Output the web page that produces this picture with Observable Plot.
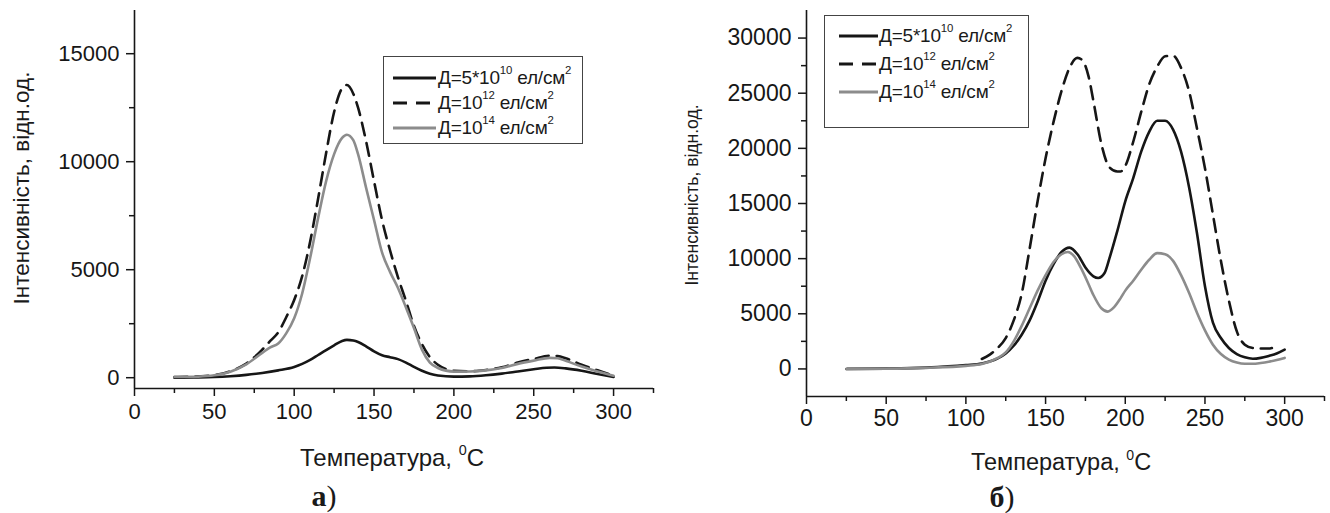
<!DOCTYPE html>
<html>
<head>
<meta charset="utf-8">
<script src="https://cdn.jsdelivr.net/npm/d3@7"></script>
<script src="https://cdn.jsdelivr.net/npm/@observablehq/plot@0.6"></script>
<style>
  html, body { margin: 0; padding: 0; background: #fff; }
  body { width: 1330px; height: 513px; position: relative; overflow: hidden; font-family: "Liberation Sans", Arial, sans-serif; color: #1a1a1a; }
  .abs { position: absolute; }
  .ytitle { position: absolute; white-space: nowrap; transform: translate(-50%, -50%) rotate(-90deg); line-height: 1.1; }
  .xtitle { position: absolute; white-space: nowrap; transform: translate(-50%, -50%); line-height: 1.1; }
  .cap { position: absolute; white-space: nowrap; transform: translate(-50%, -50%); font-family: "Liberation Serif", "Times New Roman", serif; font-size: 30px; line-height: 1; }
  .legend { position: absolute; border: 1.5px solid #444; box-sizing: border-box; background: #fff; }
  .row { position: absolute; height: 22px; line-height: 22px; white-space: nowrap; font-size: 19px; }
  .row svg { position: absolute; left: 0; top: 0; }
  .row span { position: absolute; top: 0; letter-spacing: -0.2px; }
  sup { font-size: 0.6em; position: relative; top: -0.15em; vertical-align: top; line-height: 1; }
</style>
</head>
<body>
<div id="left" class="abs" style="left:0;top:0"></div>
<div id="right" class="abs" style="left:660px;top:0"></div>
<div id="overlay"></div>
<script>
// ---------- DATA ----------
const seriesNames = ["Д=5*10^10 ел/см^2", "Д=10^12 ел/см^2", "Д=10^14 ел/см^2"];
const xMajorTicks = [0, 50, 100, 150, 200, 250, 300];
const xMinorTicks = [25, 75, 125, 175, 225, 275, 325];
const leftYMajorTicks = [0, 5000, 10000, 15000];
const leftYMinorTicks = [2500, 7500, 12500];
const rightYMajorTicks = [0, 5000, 10000, 15000, 20000, 25000, 30000];
const rightYMinorTicks = [2500, 7500, 12500, 17500, 22500, 27500];

// Panel a)
const aBlackT = [25, 40, 50, 60, 70, 80, 90, 100, 105, 110, 115, 120, 125, 130, 133, 137, 140, 145, 150, 155, 160, 165, 170, 175, 180, 185, 190, 200, 210, 220, 230, 240, 250, 258, 263, 270, 280, 290, 300];
const aBlackV = [0, 10, 30, 70, 130, 220, 340, 500, 640, 820, 1050, 1280, 1500, 1700, 1750, 1720, 1650, 1450, 1220, 1040, 950, 860, 700, 500, 320, 180, 100, 50, 60, 110, 190, 290, 390, 460, 470, 430, 320, 170, 30];
const aDashT = [25, 40, 50, 60, 70, 80, 85, 90, 95, 100, 105, 110, 115, 120, 125, 130, 133, 137, 140, 145, 150, 155, 160, 165, 170, 175, 180, 185, 190, 195, 200, 210, 220, 230, 240, 250, 260, 265, 270, 280, 290, 300];
const aDashV = [30, 60, 120, 300, 650, 1300, 1700, 2100, 2800, 3600, 4700, 6300, 8300, 10400, 12300, 13400, 13550, 13150, 12500, 10950, 9100, 7300, 5900, 4650, 3550, 2400, 1550, 950, 600, 400, 320, 300, 360, 480, 700, 870, 1020, 1000, 900, 600, 340, 100];
const aGrayT = [25, 40, 50, 60, 70, 80, 85, 90, 95, 100, 105, 110, 115, 120, 125, 130, 133, 137, 140, 145, 150, 155, 160, 165, 170, 175, 180, 185, 190, 200, 210, 220, 230, 240, 250, 260, 265, 270, 280, 290, 300];
const aGrayV = [30, 50, 110, 280, 620, 1150, 1400, 1580, 2050, 2750, 3900, 5550, 7400, 9100, 10350, 11100, 11250, 11000, 10350, 8800, 7300, 5800, 4900, 4150, 3250, 2300, 1300, 700, 450, 280, 290, 340, 450, 640, 790, 920, 900, 780, 520, 290, 90];

// Panel б)
const bBlackT = [25, 50, 75, 100, 110, 120, 125, 130, 135, 140, 145, 150, 155, 160, 165, 170, 175, 180, 183, 187, 190, 195, 200, 205, 210, 215, 220, 225, 230, 235, 240, 245, 250, 255, 260, 265, 270, 275, 280, 285, 290, 295, 300];
const bBlackV = [0, 30, 120, 350, 500, 950, 1400, 2100, 3100, 4400, 6100, 8000, 9500, 10600, 11000, 10400, 9200, 8400, 8250, 8700, 10000, 12500, 15200, 17300, 19700, 21500, 22500, 22500, 21700, 19700, 16500, 12300, 7500, 4200, 2800, 1900, 1350, 1050, 920, 1000, 1180, 1400, 1750];
const bDashT = [110, 115, 120, 125, 130, 135, 140, 145, 150, 155, 160, 165, 170, 173, 177, 180, 185, 190, 195, 197, 200, 205, 210, 215, 220, 225, 230, 235, 240, 245, 250, 255, 260, 265, 270, 275, 280, 285, 290, 292];
const bDashV = [900, 1300, 1900, 2800, 4400, 6800, 10900, 15200, 19100, 22400, 25200, 27300, 28200, 28000, 26500, 24300, 20400, 18300, 17900, 17900, 18400, 20600, 23300, 25800, 27400, 28350, 28400, 27300, 25200, 21800, 18200, 14000, 9800, 6200, 3400, 2200, 1900, 1850, 1850, 1900];
const bGrayT = [25, 50, 75, 100, 110, 120, 125, 130, 135, 140, 145, 150, 155, 160, 164, 168, 172, 176, 180, 185, 189, 193, 197, 200, 205, 210, 215, 220, 225, 230, 235, 240, 245, 250, 255, 260, 265, 270, 275, 280, 285, 290, 295, 300];
const bGrayV = [0, 20, 100, 280, 450, 1000, 1500, 2500, 3900, 5500, 7100, 8500, 9700, 10400, 10600, 10200, 9200, 8000, 6700, 5500, 5200, 5600, 6400, 7100, 8000, 9000, 9900, 10500, 10400, 9800, 8500, 6900, 5100, 3500, 2200, 1350, 850, 580, 470, 470, 540, 650, 800, 1000];

// ---------- helpers ----------
const zip = (T, V) => T.map((t, i) => ({T: t, V: V[i]}));
const INK = "#161616";
const GRAY = "#8c8c8c";

function panel({width, height, mLeft, mRight, mTop, mBottom, yDomain, yMajor, yMinor, series, fontSize, xPad, yPad}) {
  return Plot.plot({
    width, height,
    marginLeft: mLeft, marginRight: mRight, marginTop: mTop, marginBottom: mBottom,
    x: {domain: [0, 325]},
    y: {domain: yDomain},
    style: {fontFamily: '"Liberation Sans", Arial, sans-serif', color: INK, background: "transparent", overflow: "visible"},
    marks: [
      Plot.axisX({ticks: xMajorTicks, tickSize: 8, tickPadding: xPad, tickFormat: d => String(d), label: null, strokeWidth: 1.5, fill: INK, fontSize}),
      Plot.axisX({ticks: xMinorTicks, tickSize: 5, tickFormat: () => "", label: null, strokeWidth: 1.5}),
      Plot.axisY({ticks: yMajor, tickSize: 8, tickPadding: yPad, tickFormat: d => String(d), label: null, strokeWidth: 1.5, fill: INK, fontSize}),
      Plot.axisY({ticks: yMinor, tickSize: 5, tickFormat: () => "", label: null, strokeWidth: 1.5}),
      Plot.ruleX([0], {stroke: INK, strokeWidth: 1.6}),
      Plot.ruleY([yDomain[0]], {stroke: INK, strokeWidth: 1.6}),
      Plot.line(series[0], {x: "T", y: "V", stroke: INK, strokeWidth: 2.6, curve: "monotone-x"}),
      Plot.line(series[1], {x: "T", y: "V", stroke: INK, strokeWidth: 2.6, strokeDasharray: "13,8", curve: "monotone-x"}),
      Plot.line(series[2], {x: "T", y: "V", stroke: GRAY, strokeWidth: 2.6, curve: "monotone-x"})
    ]
  });
}

document.getElementById("left").appendChild(panel({
  width: 660, height: 440, mLeft: 134, mRight: 7, mTop: 10, mBottom: 52,
  yDomain: [-500, 17000], yMajor: leftYMajorTicks, yMinor: leftYMinorTicks,
  series: [zip(aBlackT, aBlackV), zip(aDashT, aDashV), zip(aGrayT, aGrayV)],
  fontSize: 22, xPad: 7, yPad: 7
}));
document.getElementById("right").appendChild(panel({
  width: 670, height: 440, mLeft: 146, mRight: 6, mTop: 10, mBottom: 44,
  yDomain: [-2500, 32500], yMajor: rightYMajorTicks, yMinor: rightYMinorTicks,
  series: [zip(bBlackT, bBlackV), zip(bDashT, bDashV), zip(bGrayT, bGrayV)],
  fontSize: 23, xPad: 5, yPad: 7
}));

// ---------- text overlays ----------
function fmtName(s) {
  return s.replace(/\^(\d+)/g, "<sup>$1</sup>");
}
function legendHTML(left, top, w, h, rowYs, lineX0, lineX1, textX) {
  const styles = [
    {stroke: INK, dash: ""},
    {stroke: INK, dash: "14,9"},
    {stroke: GRAY, dash: ""}
  ];
  let html = `<div class="legend" style="left:${left}px;top:${top}px;width:${w}px;height:${h}px">`;
  seriesNames.forEach((name, i) => {
    const st = styles[i];
    html += `<div class="row" style="left:0;top:${rowYs[i] - 11}px;width:${w}px">
      <svg width="${textX}" height="22"><line x1="${lineX0}" x2="${lineX1}" y1="11" y2="11" stroke="${st.stroke}" stroke-width="3" ${st.dash ? `stroke-dasharray="${st.dash}"` : ""}/></svg>
      <span style="left:${textX}px">${fmtName(name)}</span></div>`;
  });
  html += "</div>";
  return html;
}

const ov = document.getElementById("overlay");
ov.innerHTML =
  `<div class="ytitle" style="left:22px;top:188px;font-size:22.5px">Інтенсивність, відн.од.</div>` +
  `<div class="ytitle" style="left:693px;top:195px;font-size:17.5px">Інтенсивність, відн.од.</div>` +
  `<div class="xtitle" style="left:392px;top:458px;font-size:24px">Температура, <sup>0</sup>C</div>` +
  `<div class="xtitle" style="left:1061px;top:463px;font-size:23.5px">Температура, <sup>0</sup>C</div>` +
  `<div class="cap" style="left:324px;top:496px"><b>а</b>)</div>` +
  `<div class="cap" style="left:1002px;top:497px"><b>б</b>)</div>` +
  legendHTML(383, 56, 200, 88, [21, 46, 71], 9, 52, 54) +
  legendHTML(824, 15, 205, 113, [20, 48, 76], 14, 53, 54);
</script>
</body>
</html>
